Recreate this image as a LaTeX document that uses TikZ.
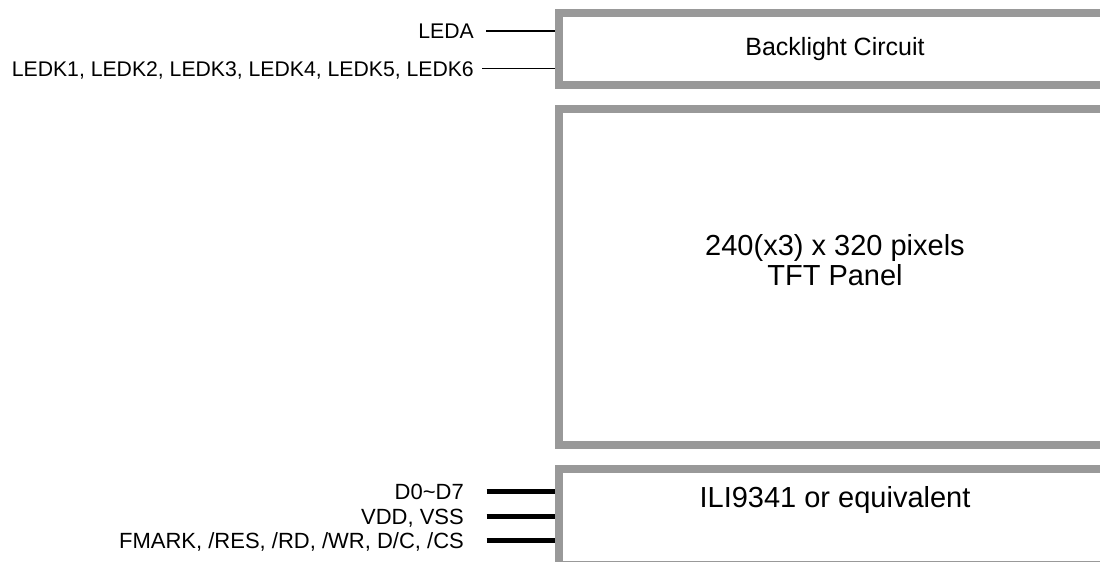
\documentclass[tikz,border=0pt]{standalone}
\usepackage{fontspec}
\setmainfont{Liberation Sans}
\usetikzlibrary{positioning, calc}
\definecolor{boxgray}{RGB}{153,153,153}
\tikzset{
    lcd_block/.style={
        rectangle,
        draw=boxgray,
        line width=7.5pt,
        minimum width=552.5pt,
        inner sep=0pt,
        align=center
    },
    lcd_title/.style={
        inner sep=0pt,
        align=center,
        font=\fontsize{29}{30}\selectfont
    },
    lcd_pin/.style={
        anchor=east,
        inner sep=0pt,
        text height=15.7pt,
        text depth=0pt,
        font=\fontsize{22}{26}\selectfont
    },
    lcd_wire/.style={
        line width=1.5pt,
        black
    },
    lcd_bus/.style={
        line width=4.8pt,
        black
    }
}

\begin{document}
\begin{tikzpicture}[x=1pt, y=-1pt]
\useasboundingbox (0,0) rectangle (1100,562);
\clip (0,0) rectangle (1100,562);

\node[lcd_block, minimum height=72pt, font=\fontsize{25}{29}\selectfont] (backlight) at (835,48.85) {Backlight Circuit};
\node[lcd_block, minimum height=336pt] (panel) at (835,277.2) {};
\node[lcd_block, minimum height=96pt] (driver) at (835,516.8) {};

\node[lcd_title] (panelText) at (835,260.5) {240(x3) x 320 pixels\\TFT Panel};
\node[lcd_title, anchor=base] (driverText) at (835,507.4) {ILI9341 or equivalent};

\node[lcd_pin, text height=15.2pt, font=\fontsize{21.2}{25}\selectfont] (leda) at (474,31) {LEDA};
\node[lcd_pin, text height=15.2pt, font=\fontsize{21.2}{25}\selectfont] (ledk) at (474,68.5) {LEDK1, LEDK2, LEDK3, LEDK4, LEDK5, LEDK6};
\node[lcd_pin] (data) at (464,491.7) {D0\textasciitilde D7};
\node[lcd_pin] (power) at (464,516.7) {VDD, VSS};
\node[lcd_pin] (ctrl) at (464,540.7) {FMARK, /RES, /RD, /WR, D/C, /CS};

\draw[lcd_wire] ([xshift=12pt]leda.east) -- (leda.east -| backlight.west);
\draw[lcd_wire] ([xshift=8pt]ledk.east) -- (ledk.east -| backlight.west);
\draw[lcd_bus] ([xshift=22.7pt]data.east) -- (data.east -| driver.west);
\draw[lcd_bus] ([xshift=22.7pt]power.east) -- (power.east -| driver.west);
\draw[lcd_bus] ([xshift=22.7pt]ctrl.east) -- (ctrl.east -| driver.west);

\end{tikzpicture}
\end{document}
